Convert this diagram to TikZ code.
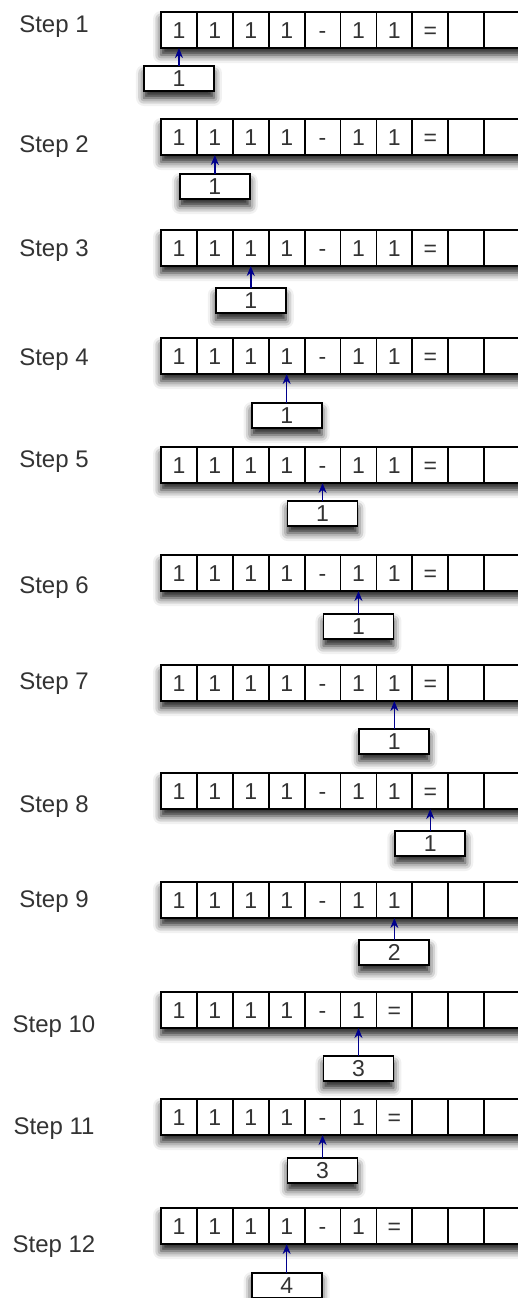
\documentclass[tikz,border=0pt]{standalone}
\usepackage{fontspec}
\setmainfont{Liberation Sans}
\usepackage{xcolor}
\usetikzlibrary{arrows.meta,positioning,shadows.blur}

\begin{document}
\begin{tikzpicture}[x=0.5pt, y=-0.5pt,
  lbl/.style={font=\fontsize{12}{14}\selectfont, text=black!80, inner sep=0pt, anchor=base},
  shd/.style={blur shadow={shadow xshift=0pt, shadow yshift=-3.5pt, shadow blur radius=4pt, shadow opacity=90}},
  tape/.style={shd, fill=white, minimum width=190pt, minimum height=18pt, inner sep=0pt, outer sep=0pt},
  cell/.style={draw=black, line width=0.9pt, minimum width=17.95pt, minimum height=18pt,
               inner sep=0pt, outer sep=0pt, text height=8.3pt, text depth=0pt,
               font=\fontsize{11.5}{13}\selectfont, text=black!80},
  headbox/.style={shd, draw=black, fill=white, line width=0.9pt, minimum width=35pt, minimum height=12.5pt,
                  inner sep=0pt, outer sep=0pt, text height=8.3pt, text depth=0pt,
                  font=\fontsize{11.5}{13}\selectfont, text=black!80},
  ar/.style={-{Stealth[length=5pt,width=4pt]}, line width=0.75pt, draw=blue!55!black}]
\useasboundingbox (0,0) rectangle (518,1298);
% r / tape top / box top / head cell / head value / label y / tape
\foreach \r/\ty/\bt/\p/\v/\ly/\t in {
  1/12/66/1/1/24/{1,1,1,1,-,1,1,=,{},{}},
  2/119/174/2/1/144/{1,1,1,1,-,1,1,=,{},{}},
  3/230/288/3/1/248/{1,1,1,1,-,1,1,=,{},{}},
  4/338/403/4/1/357/{1,1,1,1,-,1,1,=,{},{}},
  5/447/501/5/1/459/{1,1,1,1,-,1,1,=,{},{}},
  6/555/614/6/1/585/{1,1,1,1,-,1,1,=,{},{}},
  7/665/729/7/1/681/{1,1,1,1,-,1,1,=,{},{}},
  8/773/831/8/1/804/{1,1,1,1,-,1,1,=,{},{}},
  9/882/940/7/2/899/{1,1,1,1,-,1,1,{},{},{}},
  10/992/1056/6/3/1024/{1,1,1,1,-,1,=,{},{},{}},
  11/1099/1158/5/3/1126/{1,1,1,1,-,1,=,{},{},{}},
  12/1208/1273/4/4/1244/{1,1,1,1,-,1,=,{},{},{}}} {
  \node[lbl] (s\r) at (54,{\ly+8.5}) {Step \r};
  \node[tape, anchor=north west] (t\r) at (161,\ty) {};
  \foreach \s [count=\k] in \t {
    \node[cell] (c\r-\k) at ({161+35.9*(\k-1)+17.95},{\ty+18}) {\s};
  }
  \node[headbox] (h\r) at ({161+35.9*(\p-1)+17.95},{\bt+12.5}) {\v};
  \draw[ar] (h\r.north) -- (c\r-\p.south);
}
\end{tikzpicture}
\end{document}
